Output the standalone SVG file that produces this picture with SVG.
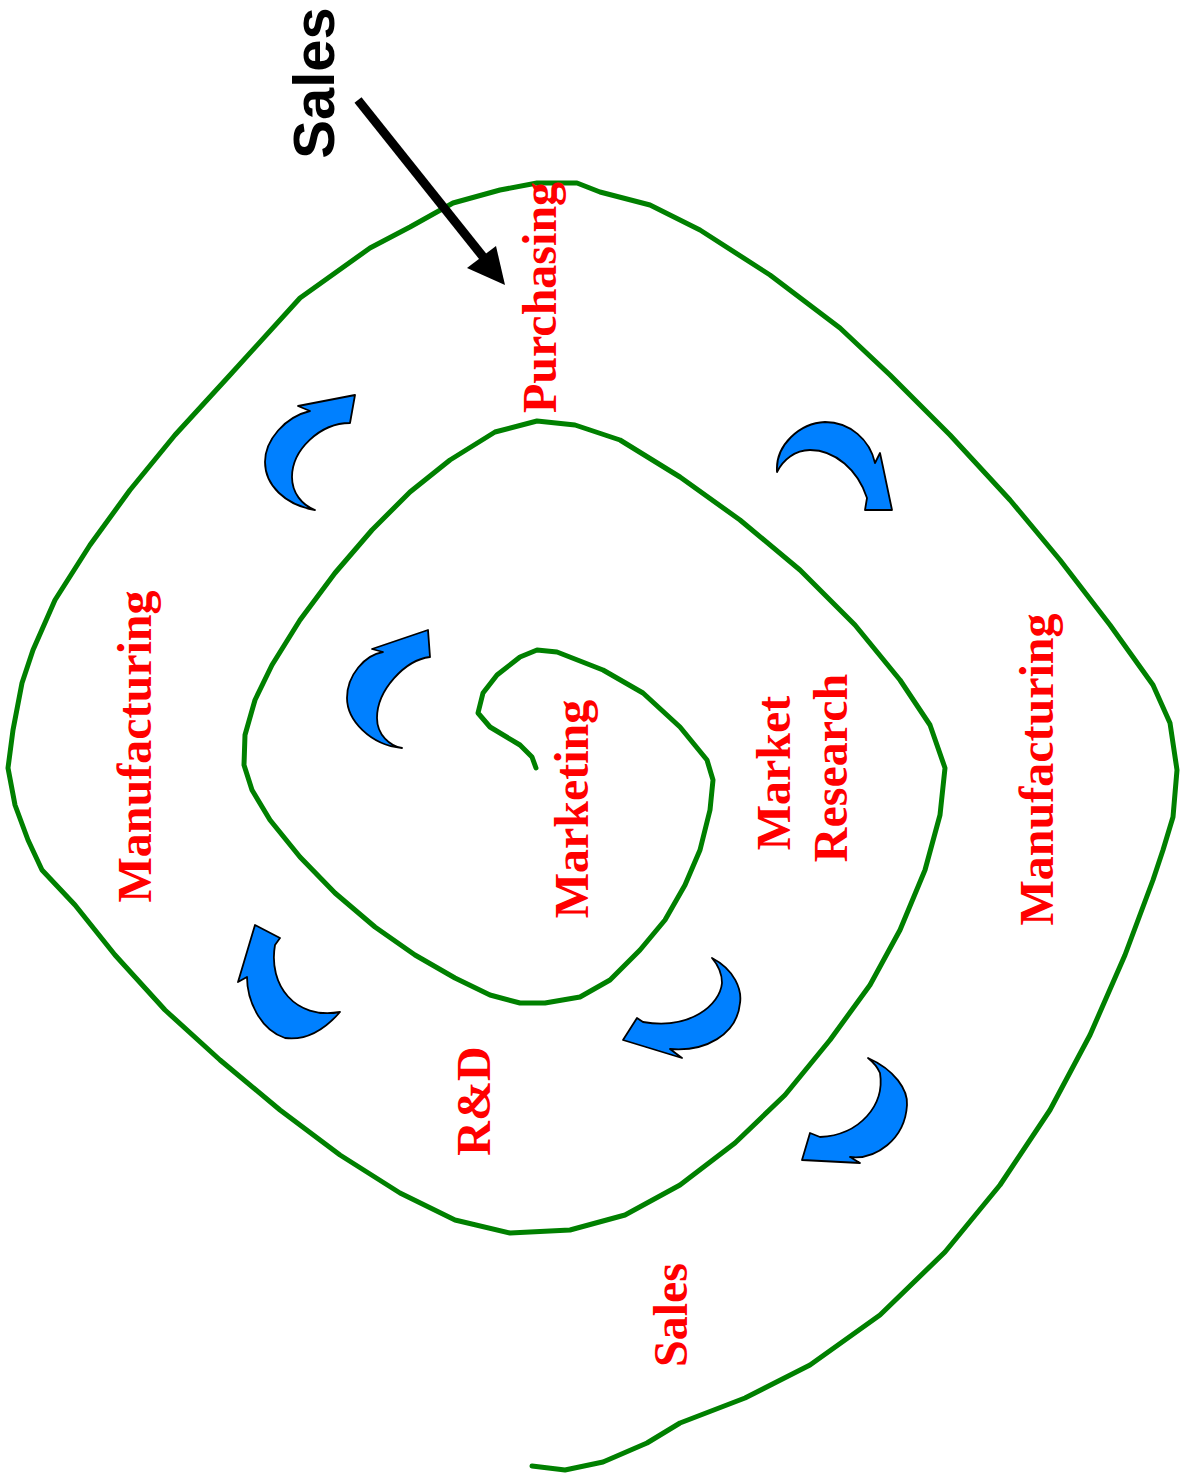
<svg xmlns="http://www.w3.org/2000/svg" width="1185" height="1484" viewBox="0 0 1185 1484">
<style>
.lbl{fill:#ff0000;font-family:"Liberation Serif","Times New Roman",serif;font-weight:bold;font-size:48px;text-anchor:middle}
.blk{fill:#000;font-family:"Liberation Sans",Arial,sans-serif;font-weight:bold;font-size:58px;text-anchor:middle}
.spiral{fill:none;stroke:#008000;stroke-width:5;stroke-linejoin:round;stroke-linecap:round}
.barrow{fill:#0080ff;stroke:#000;stroke-width:1.8;stroke-linejoin:round}
</style>
<rect width="1185" height="1484" fill="#fff"/>
<g id="connectors">
<polyline id="spiral" class="spiral" points="536,768 532,757 520,745 490,727 478,713 483,693 497,675 520,657 537,650 557,652 603,670 643,693 680,727 707,760 713,780 710,810 700,850 685,885 665,920 640,950 610,980 580,997 545,1003 520,1003 490,995 455,978 415,955 375,927 335,893 300,857 270,820 252,790 244,765 245,735 255,700 272,665 300,620 335,573 372,530 410,492 450,460 495,432 537,421 575,425 620,440 680,477 740,520 800,570 855,625 900,680 930,725 945,768 940,815 925,870 900,930 870,985 830,1040 785,1095 735,1143 680,1185 625,1215 570,1230 510,1233 455,1220 400,1193 340,1155 280,1110 220,1060 165,1010 115,955 75,905 42,870 28,840 15,805 8,768 13,730 22,683 33,650 55,600 90,545 130,490 175,435 230,375 300,298 370,248 410,227 453,203 500,190 537,183 577,183 600,192 650,205 700,230 770,275 840,328 890,375 950,435 1010,500 1060,560 1110,625 1153,685 1170,723 1177,770 1173,817 1163,850 1153,880 1125,955 1090,1035 1050,1110 1000,1185 945,1252 880,1315 810,1365 745,1398 680,1423 647,1443 603,1462 565,1470 532,1466"/>
<g id="sales-arrow">
<line x1="358" y1="100" x2="488" y2="263" stroke="#000" stroke-width="9"/>
<polygon points="505,285 467,268 496,246" fill="#000"/>
</g>
</g>
<g id="arrow1"><path class="barrow" d="M355,395 L350,423 C320,423 292,450 292,477 C292,493 302,505 315,510 C285,505 265,485 265,462 C265,440 285,417 310,411 L298,406 Z"/></g>
<g id="arrow2"><path class="barrow" d="M777,472 C775,445 800,423 825,422 C850,422 870,440 875,463 L880,453 L883,467 L892,510 L865,510 L867,498 C858,470 835,450 810,450 C795,450 783,460 777,472 Z"/></g>
<g id="arrow3"><path class="barrow" d="M428,630 L430,657 C405,660 377,690 377,718 C377,735 390,746 402,748 C370,745 347,720 347,698 C347,675 365,655 383,652 L372,649 Z"/></g>
<g id="arrow4"><path class="barrow" d="M255,925 L280,938 L275,945 C268,985 295,1020 340,1012 C320,1035 300,1040 285,1038 C260,1030 247,1000 247,977 L238,982 Z"/></g>
<g id="arrow5"><path class="barrow" d="M712,958 C735,970 742,990 740,1003 C737,1035 705,1052 670,1049 L682,1058 L623,1040 L637,1018 L643,1022 C690,1030 720,1005 722,983 C722,973 718,965 712,958 Z"/></g>
<g id="arrow6"><path class="barrow" d="M868,1058 C895,1070 908,1090 907,1105 C905,1140 875,1160 850,1157 L860,1163 L802,1160 L810,1133 L820,1137 C860,1135 885,1105 880,1073 C877,1066 873,1062 868,1058 Z"/></g>
<g id="label-purchasing"><text class="lbl" transform="translate(556,297.5) rotate(-90)">Purchasing</text></g>
<g id="label-manufacturing-left"><text class="lbl" transform="translate(151,746.5) rotate(-90)">Manufacturing</text></g>
<g id="label-manufacturing-right"><text class="lbl" transform="translate(1053,769.5) rotate(-90)">Manufacturing</text></g>
<g id="label-marketing"><text class="lbl" transform="translate(588,809) rotate(-90)">Marketing</text></g>
<g id="label-market-research"><text class="lbl" transform="translate(790,773) rotate(-90)">Market</text><text class="lbl" transform="translate(847,768) rotate(-90)">Research</text></g>
<g id="label-rd"><text class="lbl" transform="translate(490,1101) rotate(-90)">R&amp;D</text></g>
<g id="label-sales-red"><text class="lbl" transform="translate(687,1315) rotate(-90)">Sales</text></g>
<g id="label-sales-black"><text class="blk" transform="translate(334,83) rotate(-90)">Sales</text></g>
</svg>
